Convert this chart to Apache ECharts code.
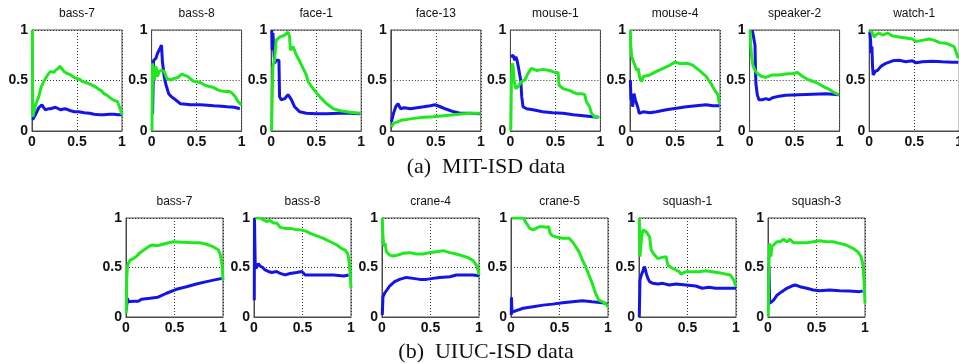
<!DOCTYPE html>
<html><head><meta charset="utf-8">
<script src="https://cdn.jsdelivr.net/npm/echarts@6/dist/echarts.min.js"></script>
<style>html,body{margin:0;padding:0;background:#fff}#c{width:959px;height:364px}</style>
</head><body><div id="c"></div>
<script>
// ---- tick labels / titles ----
const tickValues = [0, 0.5, 1];
const mitTitles = ['bass-7', 'bass-8', 'face-1', 'face-13', 'mouse-1', 'mouse-4', 'speaker-2', 'watch-1'];
const uiucTitles = ['bass-7', 'bass-8', 'crane-4', 'crane-5', 'squash-1', 'squash-3'];
const captionA = '(a)  MIT-ISD data';
const captionB = '(b)  UIUC-ISD data';

// ---- MIT-ISD data: [recall, precision] ----
const mitBass7Green = [[0.004,1.0],[0.008,0.14],[0.019,0.15],[0.04,0.26],[0.075,0.34],[0.1,0.43],[0.13,0.49],[0.17,0.55],[0.205,0.59],[0.24,0.58],[0.26,0.60],[0.29,0.62],[0.31,0.64],[0.33,0.62],[0.355,0.59],[0.39,0.57],[0.43,0.555],[0.47,0.53],[0.50,0.52],[0.53,0.51],[0.56,0.49],[0.6,0.48],[0.63,0.47],[0.68,0.45],[0.73,0.42],[0.77,0.40],[0.80,0.37],[0.84,0.35],[0.88,0.32],[0.92,0.30],[0.95,0.29],[0.98,0.22],[1.0,0.16]];
const mitBass7Blue = [[0.007,0.11],[0.037,0.16],[0.075,0.23],[0.11,0.26],[0.13,0.23],[0.15,0.21],[0.18,0.22],[0.205,0.22],[0.26,0.235],[0.32,0.21],[0.36,0.22],[0.39,0.215],[0.43,0.20],[0.47,0.19],[0.52,0.19],[0.58,0.18],[0.64,0.175],[0.69,0.165],[0.75,0.16],[0.80,0.16],[0.86,0.165],[0.91,0.165],[0.96,0.16],[1.0,0.16]];
const mitBass8Green = [[0.004,0.0],[0.011,0.67],[0.02,0.55],[0.03,0.50],[0.048,0.64],[0.066,0.54],[0.084,0.59],[0.11,0.60],[0.14,0.59],[0.17,0.52],[0.21,0.505],[0.25,0.52],[0.29,0.53],[0.34,0.565],[0.37,0.55],[0.40,0.54],[0.44,0.51],[0.47,0.49],[0.54,0.48],[0.58,0.46],[0.62,0.445],[0.69,0.43],[0.73,0.41],[0.76,0.40],[0.82,0.39],[0.87,0.39],[0.90,0.37],[0.93,0.34],[0.96,0.29],[1.0,0.26]];
const mitBass8Blue = [[0.011,0.17],[0.022,0.70],[0.048,0.72],[0.066,0.77],[0.095,0.82],[0.11,0.85],[0.12,0.69],[0.14,0.54],[0.16,0.455],[0.19,0.37],[0.22,0.34],[0.25,0.32],[0.32,0.27],[0.38,0.265],[0.43,0.26],[0.54,0.26],[0.62,0.255],[0.69,0.25],[0.78,0.245],[0.84,0.24],[0.92,0.235],[0.98,0.22]];
const mitFace1Green = [[0.004,0.0],[0.011,0.34],[0.019,0.64],[0.037,0.70],[0.056,0.90],[0.093,0.93],[0.15,0.95],[0.187,0.98],[0.205,0.93],[0.213,0.80],[0.243,0.835],[0.28,0.75],[0.317,0.69],[0.354,0.62],[0.39,0.555],[0.41,0.49],[0.448,0.44],[0.50,0.38],[0.56,0.32],[0.616,0.27],[0.69,0.22],[0.765,0.20],[0.877,0.185],[0.99,0.175]];
const mitFace1Blue = [[0.007,1.0],[0.011,0.80],[0.019,0.97],[0.03,0.80],[0.037,0.67],[0.056,0.70],[0.075,0.69],[0.086,0.70],[0.093,0.34],[0.11,0.31],[0.15,0.32],[0.187,0.36],[0.205,0.37],[0.224,0.31],[0.26,0.24],[0.317,0.19],[0.39,0.175],[0.50,0.17],[0.616,0.17],[0.765,0.175],[0.877,0.175],[0.99,0.17]];
const mitFace13Green = [[0.007,0.04],[0.03,0.075],[0.074,0.09],[0.128,0.11],[0.183,0.115],[0.256,0.125],[0.366,0.135],[0.476,0.14],[0.586,0.15],[0.70,0.16],[0.806,0.17],[0.916,0.175],[0.99,0.175]];
const mitFace13Blue = [[0.007,0.09],[0.03,0.175],[0.055,0.24],[0.08,0.27],[0.11,0.22],[0.147,0.23],[0.22,0.22],[0.29,0.23],[0.366,0.24],[0.44,0.25],[0.49,0.26],[0.55,0.24],[0.62,0.215],[0.70,0.19],[0.77,0.175],[0.88,0.175],[0.99,0.17]];
const mitMouse1Green = [[0.004,0.0],[0.011,0.47],[0.019,0.67],[0.03,0.64],[0.04,0.505],[0.06,0.42],[0.085,0.44],[0.122,0.49],[0.16,0.505],[0.196,0.57],[0.233,0.62],[0.29,0.60],[0.363,0.61],[0.437,0.60],[0.49,0.58],[0.53,0.58],[0.54,0.455],[0.585,0.42],[0.66,0.40],[0.733,0.37],[0.79,0.37],[0.826,0.36],[0.844,0.29],[0.88,0.24],[0.90,0.175],[0.937,0.14],[0.99,0.135]];
const mitMouse1Blue = [[0.004,0.735],[0.03,0.75],[0.048,0.70],[0.06,0.735],[0.074,0.70],[0.085,0.65],[0.104,0.64],[0.115,0.50],[0.126,0.34],[0.14,0.24],[0.18,0.22],[0.25,0.21],[0.36,0.19],[0.47,0.18],[0.585,0.175],[0.70,0.16],[0.81,0.15],[0.92,0.14],[0.97,0.135]];
const mitMouse4Green = [[0.004,1.0],[0.007,0.87],[0.018,0.74],[0.037,0.69],[0.055,0.65],[0.074,0.60],[0.09,0.62],[0.11,0.52],[0.13,0.49],[0.147,0.54],[0.22,0.555],[0.294,0.59],[0.368,0.62],[0.44,0.65],[0.496,0.68],[0.57,0.665],[0.643,0.67],[0.70,0.65],[0.77,0.60],[0.846,0.54],[0.90,0.47],[0.94,0.405],[0.976,0.36],[0.993,0.27]];
const mitMouse4Blue = [[0.004,0.505],[0.011,0.31],[0.018,0.37],[0.029,0.24],[0.044,0.37],[0.059,0.31],[0.074,0.32],[0.085,0.24],[0.103,0.175],[0.147,0.19],[0.22,0.18],[0.294,0.19],[0.404,0.21],[0.515,0.225],[0.625,0.24],[0.735,0.25],[0.846,0.26],[0.92,0.25],[0.993,0.25]];
const mitSpeaker2Green = [[0.004,1.0],[0.011,0.87],[0.022,0.74],[0.037,0.65],[0.06,0.60],[0.086,0.57],[0.123,0.545],[0.18,0.53],[0.254,0.555],[0.33,0.555],[0.40,0.565],[0.48,0.57],[0.53,0.58],[0.59,0.54],[0.66,0.505],[0.74,0.48],[0.81,0.445],[0.89,0.41],[0.94,0.38],[0.99,0.36]];
const mitSpeaker2Blue = [[0.03,1.0],[0.05,1.0],[0.06,0.85],[0.065,0.62],[0.07,0.47],[0.085,0.36],[0.104,0.31],[0.14,0.31],[0.18,0.32],[0.216,0.31],[0.254,0.33],[0.33,0.345],[0.40,0.355],[0.55,0.36],[0.70,0.365],[0.85,0.37],[0.99,0.36]];
const mitWatch1Green = [[0.007,1.0],[0.037,0.97],[0.055,0.93],[0.074,0.95],[0.11,0.97],[0.148,0.95],[0.204,0.97],[0.26,0.94],[0.333,0.93],[0.407,0.92],[0.48,0.91],[0.52,0.885],[0.574,0.895],[0.667,0.91],[0.72,0.90],[0.78,0.875],[0.85,0.87],[0.907,0.85],[0.944,0.835],[0.97,0.77],[0.99,0.72]];
const mitWatch1Blue = [[0.007,0.98],[0.015,0.90],[0.022,0.77],[0.03,0.835],[0.037,0.64],[0.044,0.555],[0.067,0.59],[0.093,0.60],[0.13,0.64],[0.185,0.67],[0.26,0.695],[0.333,0.70],[0.407,0.685],[0.48,0.695],[0.52,0.675],[0.59,0.685],[0.70,0.69],[0.81,0.685],[0.926,0.68],[0.99,0.68]];

// ---- UIUC-ISD data: [recall, precision] ----
const uiucBass7Green = [[0.003,0.04],[0.007,0.37],[0.014,0.51],[0.024,0.54],[0.041,0.575],[0.075,0.59],[0.11,0.615],[0.144,0.65],[0.195,0.685],[0.247,0.72],[0.28,0.727],[0.315,0.72],[0.35,0.727],[0.418,0.745],[0.486,0.76],[0.59,0.755],[0.69,0.75],[0.76,0.75],[0.83,0.735],[0.897,0.71],[0.95,0.68],[0.973,0.63],[0.993,0.51],[1.0,0.37]];
const uiucBass7Blue = [[0.003,0.07],[0.014,0.19],[0.024,0.155],[0.075,0.16],[0.127,0.16],[0.16,0.18],[0.247,0.19],[0.33,0.20],[0.418,0.24],[0.52,0.28],[0.623,0.305],[0.726,0.333],[0.83,0.357],[0.914,0.375],[0.993,0.39]];
const uiucBass8Green = [[0.014,1.0],[0.062,1.0],[0.097,0.98],[0.13,0.965],[0.166,0.975],[0.2,0.95],[0.234,0.95],[0.27,0.905],[0.32,0.895],[0.372,0.895],[0.424,0.885],[0.476,0.88],[0.528,0.87],[0.58,0.845],[0.648,0.82],[0.717,0.795],[0.786,0.76],[0.855,0.727],[0.907,0.69],[0.94,0.675],[0.966,0.64],[0.98,0.56],[0.993,0.41],[1.0,0.29]];
const uiucBass8Blue = [[0.003,0.17],[0.005,1.0],[0.012,0.55],[0.02,0.49],[0.045,0.54],[0.062,0.515],[0.09,0.50],[0.114,0.475],[0.148,0.46],[0.183,0.45],[0.234,0.46],[0.27,0.44],[0.32,0.425],[0.372,0.44],[0.44,0.45],[0.493,0.46],[0.528,0.425],[0.614,0.425],[0.717,0.425],[0.82,0.425],[0.924,0.415],[0.976,0.425]];
const uiucCrane4Green = [[0.003,1.0],[0.01,0.81],[0.02,0.71],[0.031,0.745],[0.045,0.66],[0.062,0.677],[0.079,0.625],[0.113,0.616],[0.165,0.626],[0.216,0.643],[0.285,0.65],[0.354,0.636],[0.423,0.636],[0.49,0.65],[0.56,0.66],[0.63,0.67],[0.70,0.65],[0.766,0.636],[0.835,0.616],[0.887,0.60],[0.938,0.57],[0.973,0.525],[0.99,0.475],[1.0,0.424]];
const uiucCrane4Blue = [[0.003,0.02],[0.01,0.205],[0.027,0.24],[0.045,0.256],[0.079,0.313],[0.13,0.357],[0.182,0.38],[0.25,0.40],[0.32,0.39],[0.39,0.38],[0.457,0.38],[0.526,0.39],[0.595,0.40],[0.70,0.407],[0.766,0.424],[0.87,0.424],[0.938,0.424],[1.0,0.417]];
const uiucCrane5Green = [[0.007,1.0],[0.125,1.0],[0.16,0.946],[0.193,0.896],[0.227,0.88],[0.26,0.896],[0.295,0.912],[0.33,0.912],[0.363,0.906],[0.39,0.912],[0.403,0.845],[0.43,0.82],[0.48,0.805],[0.532,0.795],[0.60,0.795],[0.634,0.76],[0.668,0.71],[0.70,0.66],[0.736,0.576],[0.77,0.508],[0.803,0.424],[0.837,0.34],[0.871,0.24],[0.905,0.17],[0.94,0.155],[0.973,0.138],[1.0,0.104]];
const uiucCrane5Blue = [[0.003,0.02],[0.005,0.2],[0.01,0.05],[0.024,0.07],[0.125,0.088],[0.227,0.104],[0.33,0.12],[0.43,0.13],[0.532,0.145],[0.634,0.155],[0.736,0.165],[0.837,0.155],[0.94,0.145],[1.0,0.13]];
const uiucSquash1Green = [[0.003,1.0],[0.01,0.61],[0.024,0.78],[0.04,0.88],[0.058,0.896],[0.075,0.86],[0.092,0.88],[0.109,0.81],[0.126,0.677],[0.16,0.626],[0.194,0.59],[0.228,0.60],[0.245,0.616],[0.28,0.61],[0.296,0.525],[0.33,0.50],[0.38,0.475],[0.415,0.458],[0.432,0.434],[0.483,0.458],[0.55,0.458],[0.62,0.458],[0.687,0.468],[0.755,0.458],[0.823,0.448],[0.89,0.434],[0.942,0.424],[0.976,0.374],[1.0,0.306]];
const uiucSquash1Blue = [[0.003,0.0],[0.01,0.374],[0.024,0.424],[0.04,0.44],[0.058,0.51],[0.075,0.44],[0.092,0.39],[0.109,0.357],[0.143,0.34],[0.194,0.333],[0.245,0.34],[0.313,0.323],[0.38,0.333],[0.483,0.323],[0.585,0.313],[0.653,0.29],[0.72,0.30],[0.79,0.29],[0.89,0.29],[1.0,0.29]];
const uiucSquash3Green = [[0.003,0.003],[0.01,0.54],[0.017,0.744],[0.03,0.61],[0.04,0.71],[0.058,0.727],[0.092,0.76],[0.126,0.76],[0.16,0.785],[0.194,0.76],[0.228,0.785],[0.262,0.75],[0.33,0.75],[0.40,0.75],[0.466,0.76],[0.534,0.77],[0.60,0.76],[0.67,0.76],[0.738,0.744],[0.806,0.727],[0.874,0.694],[0.925,0.66],[0.96,0.61],[0.976,0.54],[0.99,0.37],[1.0,0.138]];
const uiucSquash3Blue = [[0.01,0.51],[0.017,0.138],[0.03,0.12],[0.058,0.17],[0.092,0.22],[0.143,0.256],[0.194,0.29],[0.245,0.313],[0.28,0.323],[0.33,0.306],[0.40,0.29],[0.466,0.273],[0.534,0.266],[0.636,0.273],[0.738,0.266],[0.84,0.263],[0.942,0.256],[0.976,0.263]];

const mitGreen = [mitBass7Green, mitBass8Green, mitFace1Green, mitFace13Green, mitMouse1Green, mitMouse4Green, mitSpeaker2Green, mitWatch1Green];
const mitBlue = [mitBass7Blue, mitBass8Blue, mitFace1Blue, mitFace13Blue, mitMouse1Blue, mitMouse4Blue, mitSpeaker2Blue, mitWatch1Blue];
const uiucGreen = [uiucBass7Green, uiucBass8Green, uiucCrane4Green, uiucCrane5Green, uiucSquash1Green, uiucSquash3Green];
const uiucBlue = [uiucBass7Blue, uiucBass8Blue, uiucCrane4Blue, uiucCrane5Blue, uiucSquash1Blue, uiucSquash3Blue];

// ---- layout ----
const FONT = "'Liberation Sans', Arial, Helvetica, sans-serif";
const SERIF = "'Liberation Serif', 'Times New Roman', serif";
const GREEN = '#1fe81f', BLUE = '#1414e6';
const panels = [];
mitTitles.forEach((t, i) => panels.push({title: t, green: mitGreen[i], blue: mitBlue[i], left: 32 + 119.6 * i, top: 30, width: 90, height: 101}));
const uiucLefts = [126, 254, 382, 511, 639, 768];
uiucTitles.forEach((t, i) => panels.push({title: t, green: uiucGreen[i], blue: uiucBlue[i], left: uiucLefts[i], top: 218, width: 97, height: 99}));

const grid = [], xAxis = [], yAxis = [], series = [], graphic = [];
panels.forEach((p, i) => {
  grid.push({left: p.left, top: p.top, width: p.width, height: p.height, show: true, borderColor: '#4a4a4a', borderWidth: 1, containLabel: false, outerBoundsMode: 'none'});
  const common = {
    type: 'value', gridIndex: i, min: tickValues[0], max: tickValues[tickValues.length - 1], interval: tickValues[1] - tickValues[0],
    axisLine: {show: true, lineStyle: {color: '#4a4a4a', width: 1}},
    axisTick: {show: false},
    splitLine: {show: true, lineStyle: {color: '#333', width: 1, type: [1, 2]}},
    axisLabel: {color: '#111', fontFamily: FONT, fontSize: 14, fontWeight: 'bold', formatter: v => String(v)}
  };
  xAxis.push(Object.assign({}, common, {axisLabel: Object.assign({}, common.axisLabel, {margin: 4})}));
  yAxis.push(Object.assign({}, common, {axisLabel: Object.assign({}, common.axisLabel, {margin: 4})}));
  series.push({type: 'line', xAxisIndex: i, yAxisIndex: i, data: p.blue, showSymbol: false, symbol: 'none', lineStyle: {color: BLUE, width: 3}, clip: true, z: 3, animation: false});
  series.push({type: 'line', xAxisIndex: i, yAxisIndex: i, data: p.green, showSymbol: false, symbol: 'none', lineStyle: {color: GREEN, width: 3}, clip: true, z: 4, animation: false});
  graphic.push({type: 'text', x: p.left + p.width / 2, y: p.top - 16.5, style: {text: p.title, fill: '#111', font: '12px ' + FONT, textAlign: 'center', textVerticalAlign: 'middle'}});
});
graphic.push({type: 'text', x: 486, y: 167, style: {text: captionA, fill: '#111', font: '22px ' + SERIF, textAlign: 'center', textVerticalAlign: 'middle'}});
graphic.push({type: 'text', x: 486, y: 352, style: {text: captionB, fill: '#111', font: '22px ' + SERIF, textAlign: 'center', textVerticalAlign: 'middle'}});

const chart = echarts.init(document.getElementById('c'), null, {renderer: 'canvas'});
chart.setOption({animation: false, backgroundColor: '#fff', grid, xAxis, yAxis, series, graphic});
</script></body></html>
